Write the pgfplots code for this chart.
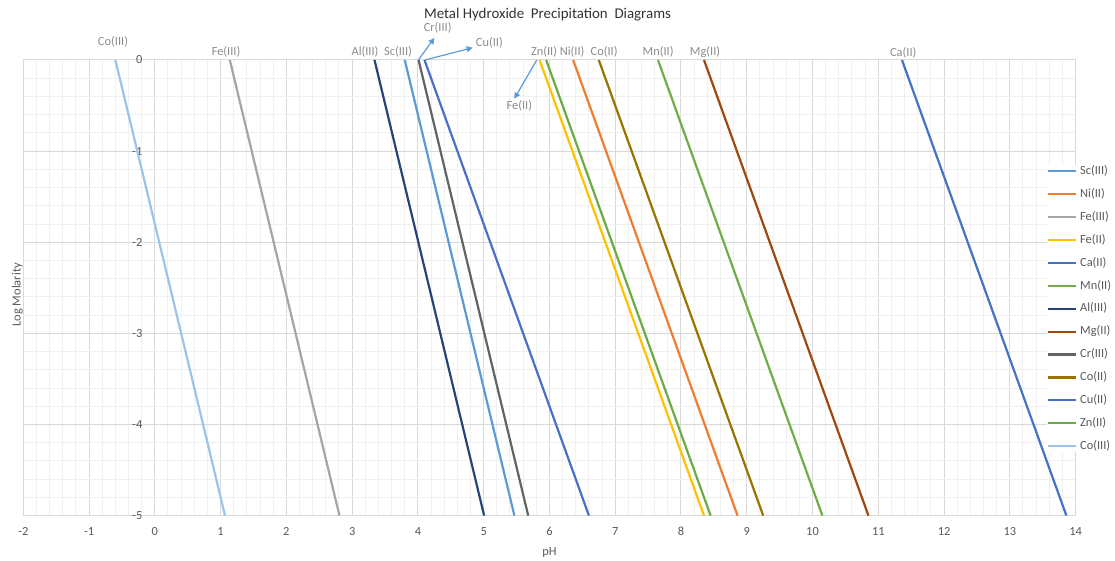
\documentclass[border=0pt]{standalone}
\usepackage{fontspec}
\setmainfont{Carlito}
\usepackage{pgfplots}
\pgfplotsset{compat=1.18}
\usetikzlibrary{arrows.meta}
\definecolor{gridmaj}{HTML}{D9D9D9}
\definecolor{gridmin}{HTML}{F0F0F0}
\definecolor{ticktext}{HTML}{595959}
\definecolor{annot}{HTML}{8C8C8C}
\definecolor{titlec}{HTML}{333333}
\definecolor{arrowc}{HTML}{5B9BD5}
\definecolor{cSc}{HTML}{5B9BD5}
\definecolor{cNi}{HTML}{ED7D31}
\definecolor{cFeIII}{HTML}{A5A5A5}
\definecolor{cFeII}{HTML}{FFC000}
\definecolor{cCa}{HTML}{4472C4}
\definecolor{cMn}{HTML}{70AD47}
\definecolor{cAl}{HTML}{264478}
\definecolor{cMg}{HTML}{9E480E}
\definecolor{cCr}{HTML}{636363}
\definecolor{cCoII}{HTML}{997300}
\definecolor{cCu}{HTML}{4A6FC8}
\definecolor{cZn}{HTML}{6AAB45}
\definecolor{cCoIII}{HTML}{9DC3E6}
\begin{document}
\begin{tikzpicture}
\begin{axis}[
  at={(0,0)}, anchor=south west,
  scale only axis, width=526.15pt, height=227.8pt,
  xmin=-2, xmax=14, ymin=-5, ymax=0,
  xtick={-2,-1,...,14}, ytick={-5,-4,...,0},
  minor x tick num=4, minor y tick num=4,
  grid=both,
  major grid style={draw=gridmaj, line width=0.5pt},
  minor grid style={draw=gridmin, line width=0.5pt},
  axis line style={draw=gridmaj, line width=0.5pt},
  major tick length=0pt, minor tick length=0pt,
  tick style={draw=none},
  /pgf/number format/assume math mode=true,
  ticklabel style={font=\fontsize{6.2}{7}\selectfont, text=ticktext, inner sep=0pt},
  xticklabel style={anchor=center, yshift=-8pt},
  yticklabel style={anchor=east, xshift=59.7pt},
  xlabel={pH}, ylabel={Log Molarity},
  xlabel style={at={(axis description cs:0.5,0)}, anchor=center, yshift=-18.5pt, font=\fontsize{6.2}{7}\selectfont, text=ticktext, inner sep=0pt},
  ylabel style={at={(axis description cs:0,0.5)}, anchor=center, xshift=-3.5pt, yshift=2.9pt, font=\fontsize{6.2}{7}\selectfont, text=ticktext, inner sep=0pt},
  title={Metal Hydroxide\ \ Precipitation\ \ Diagrams},
  title style={at={(axis description cs:0.4982,1)}, anchor=center, yshift=16.5pt, font=\fontsize{7.45}{9}\selectfont, text=titlec, inner sep=0pt},
  clip=false,
  legend cell align=left,
  legend style={at={(axis description cs:0.9728,0.7696)}, anchor=north west, draw=none, fill=white, inner sep=0pt, row sep=5.45pt, column sep=1.3pt, font=\fontsize{6.2}{7}\selectfont, text=ticktext, nodes={inner sep=0pt, text height=4.6pt, text depth=1.4pt}},
  legend image code/.code={\draw[#1] (0pt,0pt) -- (14pt,0pt);},
  every axis plot/.append style={line width=1.1pt},
]
\addplot[cSc] coordinates {(3.80,0) (5.467,-5)};
\addlegendentry{Sc(III)}
\addplot[cNi] coordinates {(6.36,0) (8.86,-5)};
\addlegendentry{Ni(II)}
\addplot[cFeIII] coordinates {(1.14,0) (2.807,-5)};
\addlegendentry{Fe(III)}
\addplot[cFeII] coordinates {(5.85,0) (8.35,-5)};
\addlegendentry{Fe(II)}
\addplot[cCa] coordinates {(11.36,0) (13.86,-5)};
\addlegendentry{Ca(II)}
\addplot[cMn] coordinates {(7.65,0) (10.15,-5)};
\addlegendentry{Mn(II)}
\addplot[cAl] coordinates {(3.34,0) (5.007,-5)};
\addlegendentry{Al(III)}
\addplot[cMg] coordinates {(8.35,0) (10.85,-5)};
\addlegendentry{Mg(II)}
\addplot[cCr] coordinates {(4.01,0) (5.677,-5)};
\addlegendentry{Cr(III)}
\addplot[cCoII] coordinates {(6.75,0) (9.25,-5)};
\addlegendentry{Co(II)}
\addplot[cCu] coordinates {(4.10,0) (6.60,-5)};
\addlegendentry{Cu(II)}
\addplot[cZn] coordinates {(5.95,0) (8.45,-5)};
\addlegendentry{Zn(II)}
\addplot[cCoIII] coordinates {(-0.60,0) (1.067,-5)};
\addlegendentry{Co(III)}
\begin{scope}[every node/.style={font=\fontsize{6.2}{7}\selectfont, text=annot, inner sep=0pt}]
\node at (axis cs:-0.636,0.198) {Co(III)};
\node at (axis cs:1.083,0.088) {Fe(III)};
\node at (axis cs:3.196,0.088) {Al(III)};
\node at (axis cs:3.698,0.088) {Sc(III)};
\node at (axis cs:4.301,0.351) {Cr(III)};
\node at (axis cs:5.086,0.187) {Cu(II)};
\node at (axis cs:5.918,0.088) {Zn(II)};
\node at (axis cs:6.344,0.088) {Ni(II)};
\node at (axis cs:6.831,0.088) {Co(II)};
\node at (axis cs:7.652,0.088) {Mn(II)};
\node at (axis cs:8.366,0.088) {Mg(II)};
\node at (axis cs:11.38,0.077) {Ca(II)};
\node at (axis cs:5.542,-0.505) {Fe(II)};
\end{scope}
\begin{scope}[arrowc, line width=0.6pt, -{Triangle[length=3pt,width=3pt]}]
\draw (axis cs:4.006,0) -- (axis cs:4.250,0.241);
\draw (axis cs:4.108,0) -- (axis cs:4.833,0.135);
\draw (axis cs:5.807,0) -- (axis cs:5.466,-0.425);
\end{scope}
\end{axis}
\pgfresetboundingbox
\path (-11.65pt,-22.7pt) rectangle (545.85pt,257.8pt);
\end{tikzpicture}
\end{document}
